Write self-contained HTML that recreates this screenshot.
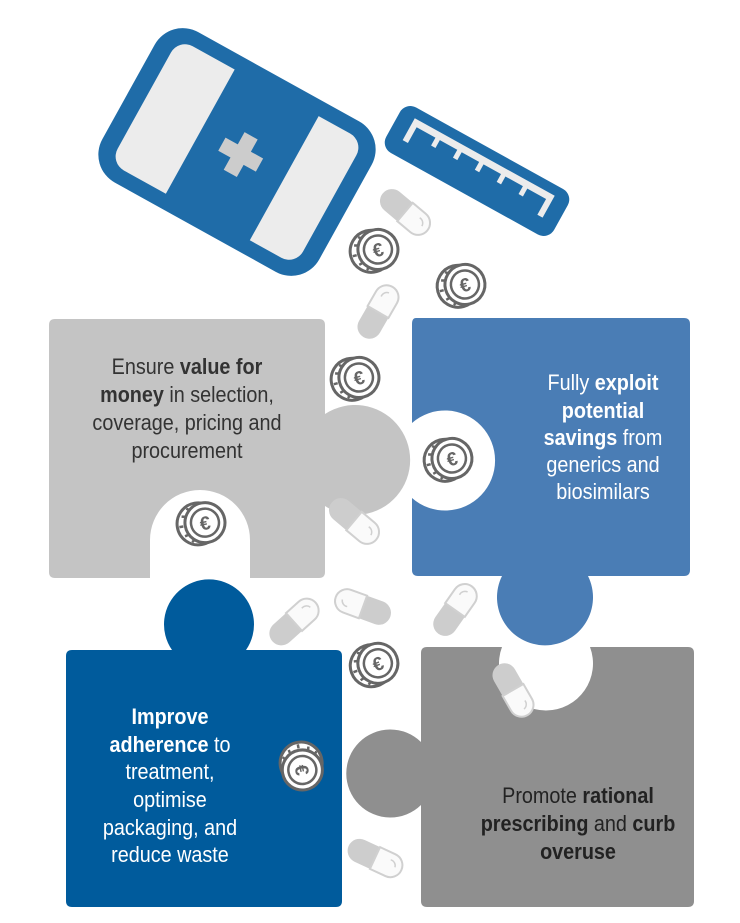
<!DOCTYPE html>
<html><head><meta charset="utf-8"><style>
html,body{margin:0;padding:0;background:#fff}
svg{display:block}
text{font-family:"Liberation Sans",sans-serif;font-size:22px}
.b{font-weight:bold}
</style></head><body>
<svg width="740" height="923" viewBox="0 0 740 923" xmlns="http://www.w3.org/2000/svg">
<defs>
<g id="coin">
<circle cx="-5" cy="0" r="21" fill="#fff" stroke="#666" stroke-width="3"/>
<path d="M-20,-10 l4,1 M-24,0 h4 M-20,10 l4,-1 M-14,-17 l3,2 M-14,17 l3,-2" stroke="#666" stroke-width="2.5"/>
<circle cx="2" cy="0" r="20" fill="#fff" stroke="#666" stroke-width="3"/>
<circle cx="2" cy="0" r="14" fill="none" stroke="#666" stroke-width="2.5"/>
<text x="2" y="7" text-anchor="middle" style="font-size:19px;font-weight:bold;font-family:'Liberation Sans',sans-serif" fill="#666">€</text>
</g>
<g id="pill">
<path d="M0,-12 H-17 A12,12 0 0 0 -17,12 H0 Z" fill="#cdcdcd"/>
<path d="M0,-12 H17 A12,12 0 0 1 17,12 H0 Z" fill="#fafafa" stroke="#d0d0d0" stroke-width="2"/>
<path d="M15,-5 a6,6 0 0 1 7,5" fill="none" stroke="#d0d0d0" stroke-width="1.5"/>
</g>
</defs>

<!-- bottle -->
<g transform="translate(237,152) rotate(29)">
<rect x="-124" y="-86" width="248" height="172" rx="32" fill="#1f6ca8"/>
<path d="M-42,-71 V71 H-90 A16,16 0 0 1 -106,55 V-55 A16,16 0 0 1 -90,-71 Z" fill="#ececec"/>
<path d="M54,-71 V71 H90 A16,16 0 0 0 106,55 V-55 A16,16 0 0 0 90,-71 Z" fill="#ececec"/>
<path d="M-3,-21 h15 v14 h14 v15 h-14 v14 h-15 v-14 h-14 v-15 h14 z" fill="#cccccc"/>
</g>
<!-- cap -->
<g transform="translate(477,171) rotate(29)">
<rect x="-96" y="-26" width="192" height="52" rx="12" fill="#1f6ca8"/>
<path d="M-80,-16 H80 V9 H74 V-9 H-74 V9 H-80 Z" fill="#ececec"/>
<path d="M-50,-10 v10 M-25,-10 v10 M0,-10 v10 M25,-10 v10 M50,-10 v10" stroke="#ececec" stroke-width="5"/>
</g>

<!-- gray TL piece -->
<path d="M55,319 H319 Q325,319 325,325 V414 A55,55 0 1 1 325,506 V572 Q325,578 319,578 H250 V540 A50,50 0 0 0 150,540 V578 H55 Q49,578 49,572 V325 Q49,319 55,319 Z" fill="#c4c4c4"/>
<!-- blue TR piece -->
<path d="M416,318 H684 Q690,318 690,324 V570 Q690,576 684,576 H588 A48,48 0 1 1 502,576 H418 Q412,576 412,570 V498 A50,50 0 1 0 412,423 V324 Q412,318 416,318 Z" fill="#4a7db5"/>
<!-- dark blue BL -->
<path d="M72,650 H172 A45,45 0 1 1 246,650 H336 Q342,650 342,656 V806 A50,50 0 1 1 342,725 V901 Q342,907 336,907 H72 Q66,907 66,901 V656 Q66,650 72,650 Z" fill="#005b9c"/>
<!-- dark gray BR -->
<path d="M427,647 H502 A47,47 0 1 0 590,647 H688 Q694,647 694,653 V901 Q694,907 688,907 H427 Q421,907 421,901 V805 A44,44 0 1 1 421,742 V653 Q421,647 427,647 Z" fill="#8f8f8f"/>

<!-- pills -->
<use href="#pill" transform="translate(405,212) rotate(40)"/>
<use href="#pill" transform="translate(378,312) rotate(-60)"/>
<use href="#pill" transform="translate(354,521) rotate(40)"/>
<use href="#pill" transform="translate(294,622) rotate(-42)"/>
<use href="#pill" transform="translate(363,607) rotate(200)"/>
<use href="#pill" transform="translate(455,610) rotate(-55)"/>
<use href="#pill" transform="translate(513,690) rotate(60)"/>
<use href="#pill" transform="translate(375,858) rotate(25)"/>

<!-- coins -->
<use href="#coin" transform="translate(376,250) rotate(-15)"/>
<use href="#coin" transform="translate(463,285) rotate(-15)"/>
<use href="#coin" transform="translate(357,378) rotate(-15)"/>
<use href="#coin" transform="translate(450,459) rotate(-15)"/>
<use href="#coin" transform="translate(203,523) rotate(-10)"/>
<use href="#coin" transform="translate(376,664) rotate(-20)"/>
<use href="#coin" transform="translate(302,768) rotate(80)"/>

<!-- texts -->
<g text-anchor="middle" fill="#333" transform="translate(187,0) scale(0.9,1) translate(-187,0)">
<text x="187" y="374">Ensure <tspan class="b">value for</tspan></text>
<text x="187" y="402"><tspan class="b">money</tspan> in selection,</text>
<text x="187" y="430">coverage, pricing and</text>
<text x="187" y="458">procurement</text>
</g>
<g text-anchor="middle" fill="#fff" transform="translate(603,0) scale(0.9,1) translate(-603,0)">
<text x="603" y="390">Fully <tspan class="b">exploit</tspan></text>
<text x="603" y="418" class="b">potential</text>
<text x="603" y="445"><tspan class="b">savings</tspan> from</text>
<text x="603" y="472">generics and</text>
<text x="603" y="499">biosimilars</text>
</g>
<g text-anchor="middle" fill="#fff" transform="translate(170,0) scale(0.9,1) translate(-170,0)">
<text x="170" y="724" class="b">Improve</text>
<text x="170" y="752"><tspan class="b">adherence</tspan> to</text>
<text x="170" y="779">treatment,</text>
<text x="170" y="807">optimise</text>
<text x="170" y="835">packaging, and</text>
<text x="170" y="862">reduce waste</text>
</g>
<g text-anchor="middle" fill="#222" transform="translate(578,0) scale(0.9,1) translate(-578,0)">
<text x="578" y="803">Promote <tspan class="b">rational</tspan></text>
<text x="578" y="831"><tspan class="b">prescribing</tspan> and <tspan class="b">curb</tspan></text>
<text x="578" y="859" class="b">overuse</text>
</g>
</svg>
</body></html>
